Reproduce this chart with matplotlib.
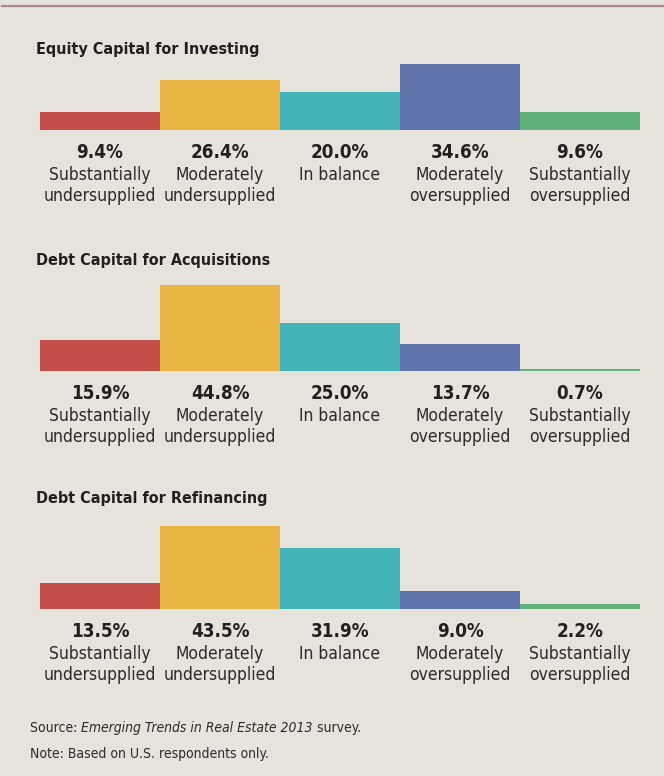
import matplotlib
matplotlib.use("Agg")
import matplotlib.pyplot as plt
from matplotlib import font_manager
from matplotlib.lines import Line2D
import numpy as np

# survey shares (%) per panel
titles = ["Equity Capital for Investing",
          "Debt Capital for Acquisitions",
          "Debt Capital for Refinancing"]
equity_investing = [9.4, 26.4, 20.0, 34.6, 9.6]
debt_acquisitions = [15.9, 44.8, 25.0, 13.7, 0.7]
debt_refinancing = [13.5, 43.5, 31.9, 9.0, 2.2]
categories = ["Substantially\nundersupplied", "Moderately\nundersupplied",
              "In balance", "Moderately\noversupplied",
              "Substantially\noversupplied"]
colors = ["#c44f4a", "#e8b444", "#42b4b7", "#6173ab", "#60b07c"]

bg = "#e6e2dc"
ink = "#231f20"
W, H = 664, 776
PX = 1.9  # pixels per percentage point

names = {f.name for f in font_manager.fontManager.ttflist}
if "Liberation Sans Narrow" in names:
    fam, stretch = "Liberation Sans Narrow", "normal"
else:
    fam, stretch = "DejaVu Sans", "condensed"

fig = plt.figure(figsize=(W / 100, H / 100), dpi=100, facecolor=bg)
fig.add_artist(Line2D([0.003, 1], [1 - 6 / H] * 2, color="#a88c82", lw=1.6))

title_y = [54, 265, 503]
base_y = [130, 370.5, 608.5]
panels = [equity_investing, debt_acquisitions, debt_refinancing]

for title, ty, by, vals in zip(titles, title_y, base_y, panels):
    ax = fig.add_axes([40 / W, 1 - by / H, 600 / W, 100 / H])
    ax.set_facecolor("none")
    ax.bar(np.arange(5), vals, width=1.0, color=colors)
    ax.set_xlim(-0.5, 4.5)
    ax.set_ylim(0, 100 / PX)
    ax.axis("off")

    fig.text(36 / W, 1 - ty / H, title, fontsize=11.5, fontweight="bold",
             family=fam, stretch=stretch, color=ink, va="baseline")

    for i, (v, cat) in enumerate(zip(vals, categories)):
        ax.text(i, -28.5 / PX, f"{v:.1f}%", ha="center", va="baseline",
                fontsize=13.5, fontweight="bold", family=fam,
                stretch=stretch, color=ink, clip_on=False)
        for j, line in enumerate(cat.split("\n")):
            ax.text(i, -(50.5 + 20.5 * j) / PX, line, ha="center",
                    va="baseline", fontsize=12.5, family=fam,
                    stretch=stretch, color="#2e2a2a", clip_on=False)

# footer
foot = dict(fontsize=10, family=fam, stretch=stretch, color="#2e2a2a")
t1 = fig.text(30 / W, 1 - 732 / H, "Source: ", va="baseline", **foot)
t2 = fig.text(0, 0, "Emerging Trends in Real Estate 2013", style="italic",
              **foot)
t3 = fig.text(0, 0, " survey.", **foot)
fig.canvas.draw()
r = fig.canvas.get_renderer()
x = t1.get_window_extent(r).x1
t2.set_position((x / W, 1 - 732 / H))
t2.set_va("baseline")
fig.canvas.draw()
x = t2.get_window_extent(r).x1
t3.set_position((x / W, 1 - 732 / H))
t3.set_va("baseline")
fig.text(30 / W, 1 - 758 / H, "Note: Based on U.S. respondents only.",
         va="baseline", **foot)

fig.savefig("out.png", dpi=100, facecolor=bg)
